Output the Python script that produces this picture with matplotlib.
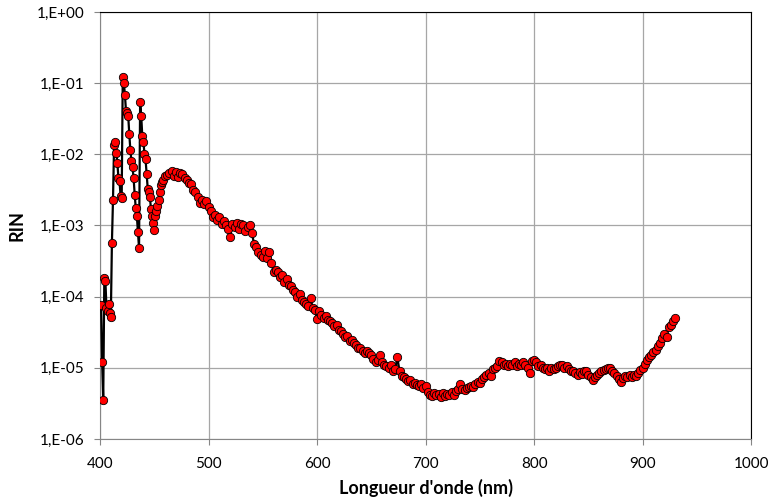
import numpy as np
import matplotlib
matplotlib.use('Agg')
import matplotlib.pyplot as plt
from matplotlib.ticker import FuncFormatter, NullLocator, FixedLocator

# Partie 1 : zone des pics (lue point par point)
lambda_pics = [401, 402, 403, 404, 405, 406, 407, 408, 409, 410,
               411, 412, 413, 414, 415, 416, 417, 418, 419, 420,
               421, 422, 423, 424, 425, 426, 427, 428, 429, 430,
               431, 432, 433, 434, 435, 436, 437, 438, 439, 440,
               441, 442, 443, 444, 445, 446, 447, 448, 449, 450,
               451, 452, 453, 454, 455, 456, 457, 458, 460, 462]
rin_pics = [7.7e-5, 1.2e-5, 3.5e-6, 1.8e-4, 1.66e-4, 6.9e-5, 6.2e-5, 8.0e-5, 5.9e-5, 5.2e-5,
            5.7e-4, 2.3e-3, 1.35e-2, 1.5e-2, 1.05e-2, 7.6e-3, 4.7e-3, 4.2e-3, 2.6e-3, 2.4e-3,
            0.123, 0.102, 0.068, 0.040, 0.038, 0.035, 0.0194, 0.0115, 8.1e-3, 6.6e-3,
            4.6e-3, 2.7e-3, 1.74e-3, 1.34e-3, 8.1e-4, 4.8e-4, 0.055, 0.035, 0.018, 0.015,
            0.0102, 8.5e-3, 5.3e-3, 3.3e-3, 3.0e-3, 2.5e-3, 1.7e-3, 1.35e-3, 1.1e-3, 8.7e-4,
            1.35e-3, 1.58e-3, 1.85e-3, 2.3e-3, 3.0e-3, 3.7e-3, 4.1e-3, 4.4e-3, 4.9e-3, 5.1e-3]

# Partie 2 : le reste du spectre, un point tous les 2 nm
lambda_suite = list(range(464, 932, 2))
rin_suite = [
    5.4e-3, 5.8e-3, 5.0e-3, 5.6e-3, 4.8e-3, 5.5e-3, 5.3e-3, 4.6e-3, 4.3e-3, 4.0e-3,   # 464-482
    3.8e-3, 3.2e-3, 3.0e-3, 2.5e-3, 2.1e-3, 2.3e-3, 2.0e-3, 2.2e-3, 1.8e-3, 1.6e-3,   # 484-502
    1.3e-3, 1.4e-3, 1.2e-3, 1.3e-3, 1.05e-3, 1.15e-3, 1.0e-3, 9.0e-4, 7.0e-4, 1.05e-3, # 504-522
    9.5e-4, 1.1e-3, 9.0e-4, 1.05e-3, 1.0e-3, 8.5e-4, 9.5e-4, 1.0e-3, 7.8e-4, 5.5e-4,  # 524-542
    5.0e-4, 4.2e-4, 3.8e-4, 3.6e-4, 4.4e-4, 3.5e-4, 4.2e-4, 3.0e-4, 2.2e-4, 2.4e-4,   # 544-562
    2.2e-4, 1.9e-4, 2.0e-4, 1.6e-4, 1.75e-4, 1.45e-4, 1.4e-4, 1.25e-4, 1.15e-4, 1.0e-4, # 564-582
    1.1e-4, 9.0e-5, 8.5e-5, 8.0e-5, 7.5e-5, 9.5e-5, 7.0e-5, 6.5e-5, 4.8e-5, 6.2e-5,   # 584-602
    5.6e-5, 5.0e-5, 5.4e-5, 4.7e-5, 4.6e-5, 4.2e-5, 3.9e-5, 4.0e-5, 3.4e-5, 3.3e-5,   # 604-622
    3.0e-5, 2.7e-5, 2.8e-5, 2.4e-5, 2.5e-5, 2.2e-5, 2.1e-5, 1.9e-5, 1.9e-5, 1.75e-5,  # 624-642
    1.6e-5, 1.7e-5, 1.6e-5, 1.5e-5, 1.35e-5, 1.2e-5, 1.3e-5, 1.5e-5, 1.2e-5, 1.1e-5,  # 644-662
    1.05e-5, 1.0e-5, 1.1e-5, 9.0e-6, 9.5e-6, 1.4e-5, 9.0e-6, 7.6e-6, 7.5e-6, 7.0e-6,  # 664-682
    6.5e-6, 6.8e-6, 6.0e-6, 6.2e-6, 5.8e-6, 5.5e-6, 5.9e-6, 5.2e-6, 5.5e-6, 4.6e-6,   # 684-702
    4.2e-6, 4.0e-6, 4.5e-6, 4.1e-6, 4.3e-6, 3.9e-6, 4.4e-6, 4.0e-6, 4.3e-6, 4.1e-6,   # 704-722
    4.6e-6, 4.2e-6, 4.8e-6, 5.0e-6, 6.0e-6, 5.0e-6, 4.9e-6, 5.2e-6, 5.4e-6, 5.6e-6,   # 724-742
    5.4e-6, 6.0e-6, 6.3e-6, 6.1e-6, 7.0e-6, 7.5e-6, 8.0e-6, 8.5e-6, 7.8e-6, 9.5e-6,   # 744-762
    1.0e-5, 1.05e-5, 1.25e-5, 1.2e-5, 1.1e-5, 1.15e-5, 1.05e-5, 1.15e-5, 1.1e-5, 1.2e-5, # 764-782
    1.05e-5, 1.15e-5, 1.1e-5, 1.2e-5, 1.1e-5, 1.0e-5, 8.5e-6, 1.25e-5, 1.3e-5, 1.2e-5, # 784-802
    1.05e-5, 1.1e-5, 1.0e-5, 9.5e-6, 1.0e-5, 9.0e-6, 9.8e-6, 9.5e-6, 1.0e-5, 1.05e-5,  # 804-822
    1.1e-5, 1.1e-5, 1.0e-5, 1.05e-5, 9.5e-6, 9.0e-6, 8.9e-6, 8.5e-6, 8.0e-6, 8.6e-6,   # 824-842
    8.2e-6, 8.9e-6, 9.0e-6, 8.0e-6, 7.5e-6, 6.8e-6, 7.5e-6, 8.0e-6, 8.5e-6, 9.0e-6,   # 844-862
    9.3e-6, 9.6e-6, 1.0e-5, 9.8e-6, 9.0e-6, 8.5e-6, 7.8e-6, 7.0e-6, 6.4e-6, 7.2e-6,   # 864-882
    7.6e-6, 7.4e-6, 7.9e-6, 7.5e-6, 8.0e-6, 7.7e-6, 8.5e-6, 9.3e-6, 1.0e-5, 1.15e-5,  # 884-902
    1.3e-5, 1.4e-5, 1.5e-5, 1.65e-5, 1.8e-5, 2.0e-5, 2.2e-5, 2.6e-5, 3.0e-5, 2.7e-5,  # 904-922
    3.7e-5, 4.0e-5, 4.5e-5, 5.0e-5]                                                    # 924-930

longueur_onde = lambda_pics + lambda_suite
rin = rin_pics + rin_suite

plt.rcParams['font.family'] = ['Lato', 'DejaVu Sans']

fig = plt.figure(figsize=(7.72, 5.0), dpi=100)
ax = fig.add_axes([0.1295, 0.122, 0.8435, 0.854])

ax.plot(longueur_onde, rin, color='black', linewidth=1.6,
        marker='o', markersize=6.0, markerfacecolor='#FF0000',
        markeredgecolor='black', markeredgewidth=0.6, zorder=3)

ax.set_yscale('log')
ax.set_xlim(400, 1000)
ax.set_ylim(1e-6, 1)
ax.set_xticks([400, 500, 600, 700, 800, 900, 1000])
ax.yaxis.set_major_locator(FixedLocator([1e-6, 1e-5, 1e-4, 1e-3, 1e-2, 1e-1, 1]))
ax.yaxis.set_minor_locator(NullLocator())
ax.yaxis.set_major_formatter(FuncFormatter(lambda v, p: '1,E%+03d' % int(round(np.log10(v)))))

ax.grid(True, color='#A6A6A6', linewidth=0.9)
ax.set_axisbelow(True)
for s in ['left', 'bottom']:
    ax.spines[s].set_color('#868686')
for s in ['top', 'right']:
    ax.spines[s].set_color('black')
    ax.spines[s].set_linewidth(0.8)
ax.tick_params(axis='both', colors='#868686', labelcolor='black', labelsize=11, length=4, width=0.8)
ax.tick_params(axis='x', pad=9)
ax.tick_params(axis='y', pad=7)

ax.set_xlabel("Longueur d'onde (nm)", fontsize=13, fontweight='bold', labelpad=6)
ax.set_ylabel('RIN', fontsize=13, fontweight='bold', labelpad=8)

plt.savefig('out.png', dpi=100)
